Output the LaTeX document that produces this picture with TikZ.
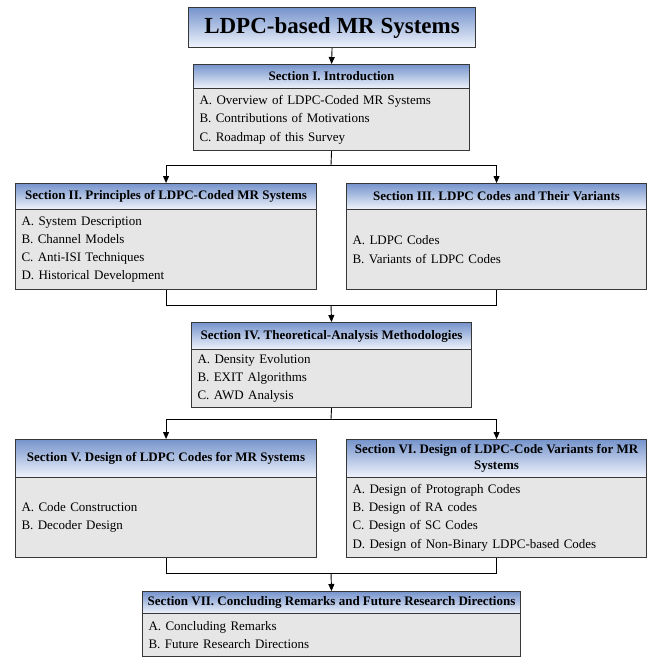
\documentclass[tikz,border=0pt]{standalone}
\usepackage{fontspec}
\setmainfont{Liberation Serif}
\usetikzlibrary{arrows.meta}
\definecolor{boxline}{RGB}{55,55,55}
\definecolor{hdrtop}{RGB}{118,148,204}
\definecolor{hdrbot}{RGB}{240,244,252}
\definecolor{bodyfill}{RGB}{230,230,230}
\tikzset{
  titlebox/.style={draw=boxline, line width=1.1pt, top color=hdrtop, bottom color=hdrbot,
    font=\fontsize{23}{26}\selectfont\bfseries, inner sep=0pt, anchor=north west},
  hdr/.style={draw=boxline, line width=1.1pt, top color=hdrtop, bottom color=hdrbot,
    font=\fontsize{13}{15.5}\selectfont\bfseries, inner sep=0pt, align=center, anchor=north west},
  bdy/.style={draw=boxline, line width=1.1pt, fill=bodyfill,
    font=\fontsize{13}{18.3}\selectfont, inner xsep=6pt, inner ysep=0pt, align=left, anchor=north west},
  conn/.style={line width=0.9pt, draw=black},
  arr/.style={conn, -{Triangle[length=7pt,width=6pt]}}
}
\begin{document}
\begin{tikzpicture}[x=1pt,y=-1pt]
\useasboundingbox (0,0) rectangle (651,658);
% title
\node[titlebox, minimum width=287pt, minimum height=40pt] (title) at (188,7) {LDPC-based MR Systems};
% Section I
\node[hdr, minimum width=276pt, minimum height=24pt] (s1h) at (193,64) {Section I. Introduction};
\node[bdy, text width=264pt, minimum height=62pt] (s1b) at (193,88) {A. Overview of LDPC-Coded MR Systems\\B. Contributions of Motivations\\C. Roadmap of this Survey};
% Section II
\node[hdr, minimum width=301pt, minimum height=26pt] (s2h) at (15,183) {Section II. Principles of LDPC-Coded MR Systems};
\node[bdy, text width=289pt, minimum height=80pt] (s2b) at (15,209) {A. System Description\\B. Channel Models\\C. Anti-ISI Techniques\\D. Historical Development};
% Section III
\node[hdr, minimum width=300pt, minimum height=26pt] (s3h) at (346,183) {Section III. LDPC Codes and Their Variants};
\node[bdy, text width=288pt, minimum height=80pt] (s3b) at (346,209) {A. LDPC Codes\\B. Variants of LDPC Codes};
% Section IV
\node[hdr, minimum width=280pt, minimum height=27pt] (s4h) at (191,322) {Section IV. Theoretical-Analysis Methodologies};
\node[bdy, text width=268pt, minimum height=58pt] (s4b) at (191,349) {A. Density Evolution\\B. EXIT Algorithms\\C. AWD Analysis};
% Section V
\node[hdr, minimum width=301pt, minimum height=38pt] (s5h) at (15,439) {Section V. Design of LDPC Codes for MR Systems};
\node[bdy, text width=289pt, minimum height=80pt] (s5b) at (15,477) {A. Code Construction\\B. Decoder Design};
% Section VI
\node[hdr, minimum width=300pt, minimum height=38pt] (s6h) at (346,439) {Section VI. Design of LDPC-Code Variants for MR\\Systems};
\node[bdy, text width=288pt, minimum height=80pt] (s6b) at (346,477) {A. Design of Protograph Codes\\B. Design of RA codes\\C. Design of SC Codes\\D. Design of Non-Binary LDPC-based Codes};
% Section VII
\node[hdr, minimum width=378pt, minimum height=22pt] (s7h) at (142,591) {Section VII. Concluding Remarks and Future Research Directions};
\node[bdy, text width=366pt, minimum height=43pt] (s7b) at (142,613) {A. Concluding Remarks\\B. Future Research Directions};
% connectors
\coordinate (j1) at (331,165);
\coordinate (j2) at (331,305);
\coordinate (j3) at (331,419);
\coordinate (j4) at (331,573);
\draw[arr] (title.south) -- (s1h.north);
\draw[conn] (s1b.south) -- (j1);
\draw[arr] (j1) -| (s2h.north);
\draw[arr] (j1) -| (s3h.north);
\draw[conn] (s2b.south) |- (j2);
\draw[conn] (s3b.south) |- (j2);
\draw[arr] (j2) -- (s4h.north);
\draw[conn] (s4b.south) -- (j3);
\draw[arr] (j3) -| (s5h.north);
\draw[arr] (j3) -| (s6h.north);
\draw[conn] (s5b.south) |- (j4);
\draw[conn] (s6b.south) |- (j4);
\draw[arr] (j4) -- (s7h.north);
\end{tikzpicture}
\end{document}
